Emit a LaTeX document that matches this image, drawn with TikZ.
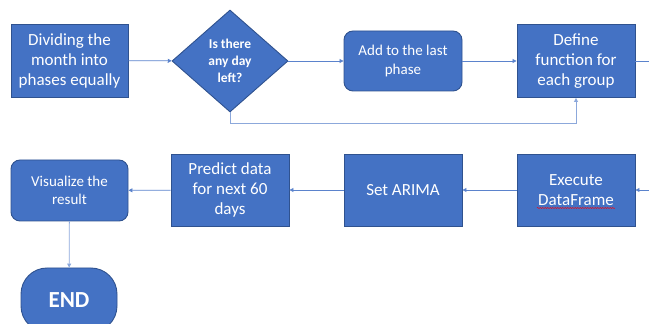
\documentclass[tikz,border=0pt]{standalone}
\usepackage{fontspec}
\setmainfont{Carlito}
\usetikzlibrary{shapes.geometric,arrows.meta,decorations.pathmorphing}

\definecolor{officeblue}{HTML}{4472C4}
\definecolor{edgeblue}{HTML}{2F528F}
\definecolor{lineblue}{HTML}{5B83CC}

\tikzset{
  box/.style={draw=edgeblue, line width=0.9pt, fill=officeblue, text=white,
    align=center, inner sep=0pt, font=\fontsize{17}{20}\selectfont},
  roundbox/.style={box, rounded corners=9pt},
  decision/.style={box, diamond, aspect=1.14, font=\bfseries\fontsize{13.5}{17}\selectfont},
  flow/.style={draw=lineblue, line width=0.8pt, -{Triangle[length=4pt,width=4pt]}}
}

\begin{document}
\begin{tikzpicture}[x=1pt,y=1pt]
    \useasboundingbox (0,0) rectangle (649,324);
    % top row
    \node[box, minimum width=117pt, minimum height=73pt] (divide) at (69.5,263.5) {Dividing the\\month into\\phases equally};
    \node[decision, minimum width=116pt, minimum height=102pt] (left) at (230,263) {Is there\\any day\\left?};
    \node[roundbox, minimum width=118pt, minimum height=60pt, font=\fontsize{15}{19}\selectfont] (addlast) at (403,263) {Add to the last\\phase};
    \node[box, minimum width=118pt, minimum height=73pt] (define) at (576,263) {Define\\function for\\each group};
    \coordinate (outR) at (649,263);
    % bottom row
    \node[roundbox, minimum width=117pt, minimum height=61pt, font=\fontsize{15}{18}\selectfont] (visual) at (69.5,133.5) {Visualize the\\result};
    \node[box, minimum width=118pt, minimum height=72pt] (predict) at (230,134) {Predict data\\for next 60\\days};
    \node[box, minimum width=118pt, minimum height=72pt] (arima) at (403,134) {Set ARIMA};
    \node[box, minimum width=118pt, minimum height=72pt] (execute) at (576,134) {Execute\\DataFrame};
    \coordinate (inR) at (649,134);
    \node[box, rounded corners=26pt, minimum width=96pt, minimum height=64pt, font=\bfseries\fontsize{23}{26}\selectfont] (end) at (69,24) {END};
    % spell check mark
    \draw[red, line width=0.4pt, decorate, decoration={snake, amplitude=0.6pt, segment length=2.5pt}] (537,116) -- (615,116);
    % connectors
    \draw[flow] (divide) -- (left);
    \draw[flow] (left) -- (addlast);
    \draw[flow] (addlast) -- (define);
    \draw[draw=lineblue, line width=0.8pt] (define) -- (outR);
    \draw[flow, draw=lineblue!70] (left.south) -- ++(0,-11) -| (define.south);
    \draw[flow] (inR) -- (execute);
    \draw[flow] (execute) -- (arima);
    \draw[flow] (arima) -- (predict);
    \draw[flow] (predict) -- (visual);
    \draw[flow, draw=lineblue!70] (visual) -- (end);
\end{tikzpicture}
\end{document}
